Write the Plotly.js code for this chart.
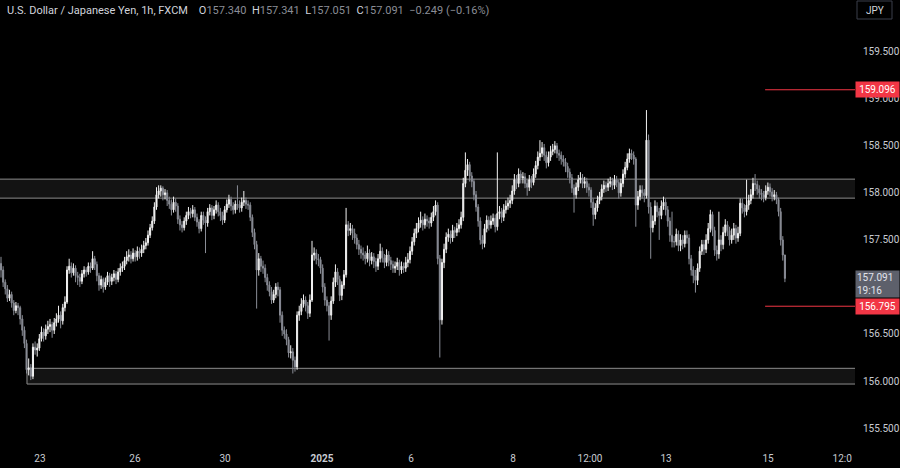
<!DOCTYPE html>
<html>
<head>
<meta charset="utf-8">
<script src="https://cdn.plot.ly/plotly-3.0.1.min.js"></script>
<style>
html,body{margin:0;padding:0;background:#000;}
#chart{width:900px;height:468px;}
</style>
</head>
<body>
<div id="chart"></div>
<script>
// USD/JPY 1h candles (FXCM), Dec 23 2024 -> Jan 15 2025
const opens = [
157.25,157.18,157.05,156.98,156.88,156.92,156.83,156.75,156.80,156.78,
156.66,156.54,156.40,156.12,156.14,156.05,156.36,156.33,156.35,156.45,
156.52,156.48,156.55,156.58,156.60,156.54,156.62,156.66,156.70,156.64,
156.78,156.84,157.18,157.22,157.15,157.20,157.12,157.10,157.06,157.14,
157.18,157.16,157.22,157.20,157.30,157.24,157.12,157.02,157.08,157.00,
157.05,157.12,157.06,157.10,157.14,157.08,157.16,157.20,157.22,157.28,
157.32,157.34,157.30,157.36,157.32,157.38,157.36,157.40,157.44,157.47,
157.55,157.63,157.70,157.85,157.98,158.02,158.05,157.98,158.00,157.92,
157.88,157.82,157.90,157.86,157.72,157.66,157.63,157.70,157.76,157.80,
157.78,157.82,157.74,157.69,157.62,157.76,157.71,157.68,157.80,157.84,
157.76,157.82,157.87,157.80,157.76,157.71,157.82,157.88,157.93,157.86,
157.82,157.88,157.87,157.84,157.90,157.92,157.88,157.87,157.74,157.58,
157.45,157.18,157.30,157.22,157.20,157.10,157.02,156.95,156.86,156.92,
157.00,156.97,156.70,156.54,156.50,156.44,156.30,156.31,156.22,156.15,
156.70,156.74,156.82,156.86,156.80,156.72,156.86,157.34,157.36,157.30,
157.29,157.20,157.00,156.86,156.80,156.70,156.85,157.05,157.16,157.08,
156.91,157.02,157.13,157.66,157.60,157.62,157.57,157.52,157.45,157.40,
157.36,157.34,157.30,157.36,157.28,157.32,157.27,157.22,157.30,157.38,
157.31,157.26,157.34,157.28,157.24,157.20,157.22,157.26,157.18,157.22,
157.20,157.26,157.29,157.38,157.48,157.57,157.62,157.68,157.71,157.66,
157.72,157.70,157.68,157.74,157.80,157.87,157.30,156.65,157.26,157.40,
157.53,157.56,157.52,157.60,157.58,157.62,157.66,157.74,158.10,158.24,
158.30,158.18,158.12,157.98,157.85,157.70,157.50,157.46,157.62,157.71,
157.66,157.70,157.73,157.64,157.78,157.80,157.74,157.82,157.86,157.89,
157.92,158.02,158.14,158.10,158.20,158.16,158.17,158.10,158.06,158.14,
158.11,158.20,158.29,158.38,158.42,158.48,158.40,158.32,158.38,158.44,
158.46,158.50,158.42,158.40,158.36,158.33,158.28,158.22,158.16,158.05,
157.98,158.06,158.14,158.16,158.10,158.12,158.06,158.03,157.90,157.77,
157.84,157.92,157.96,158.04,158.08,158.06,158.10,158.12,158.08,158.14,
158.11,158.00,158.10,158.20,158.27,158.36,158.42,158.40,158.36,157.87,
157.96,158.03,158.00,157.97,158.56,157.85,157.63,157.70,157.86,157.80,
157.76,157.86,157.90,157.82,157.70,157.55,157.48,157.48,157.56,157.44,
157.50,157.46,157.55,157.52,157.30,157.18,157.12,157.07,157.20,157.38,
157.45,157.40,157.50,157.62,157.77,157.60,157.39,157.35,157.50,157.45,
157.58,157.66,157.60,157.50,157.55,157.62,157.52,157.57,157.89,157.84,
157.80,157.87,157.92,157.98,158.10,158.09,158.04,158.00,157.98,157.95,
158.02,158.06,158.01,157.96,157.98,157.93,157.80,157.50,157.340
];
const highs = [
157.32,157.22,157.08,157.02,156.97,156.95,156.86,156.84,156.83,156.80,
156.70,156.58,156.44,156.24,156.18,156.40,156.42,156.40,156.50,156.58,
156.56,156.60,156.64,156.66,156.63,156.67,156.72,156.80,156.74,156.82,
156.90,157.22,157.30,157.26,157.25,157.23,157.16,157.14,157.18,157.22,
157.21,157.26,157.26,157.38,157.33,157.27,157.15,157.12,157.10,157.10,
157.16,157.15,157.14,157.18,157.17,157.20,157.25,157.27,157.32,157.38,
157.40,157.38,157.41,157.39,157.43,157.42,157.45,157.49,157.52,157.60,
157.67,157.75,157.90,158.06,158.08,158.08,158.07,158.04,158.03,157.96,
157.93,157.96,157.94,157.89,157.76,157.70,157.74,157.80,157.85,157.84,
157.87,157.85,157.78,157.72,157.80,157.80,157.75,157.84,157.88,157.87,
157.86,157.92,157.90,157.84,157.80,157.86,157.93,157.98,157.96,157.90,
157.92,158.08,157.92,157.95,158.02,157.95,157.92,157.90,157.77,157.62,
157.49,157.36,157.33,157.28,157.24,157.14,157.06,157.00,156.97,157.04,
157.05,157.00,156.74,156.58,156.55,156.47,156.38,156.35,156.26,156.74,
156.80,156.88,156.92,156.90,156.84,156.92,157.49,157.42,157.40,157.35,
157.32,157.24,157.04,156.90,156.84,156.90,157.10,157.24,157.20,157.12,
157.06,157.18,157.84,157.70,157.68,157.66,157.62,157.56,157.50,157.44,
157.42,157.38,157.44,157.40,157.37,157.36,157.31,157.35,157.46,157.42,
157.35,157.40,157.38,157.32,157.28,157.27,157.31,157.29,157.27,157.26,
157.32,157.36,157.43,157.53,157.62,157.68,157.74,157.80,157.75,157.78,
157.76,157.74,157.79,157.86,157.92,157.90,157.34,157.30,157.46,157.58,
157.62,157.60,157.66,157.64,157.68,157.72,157.80,158.16,158.43,158.36,
158.33,158.22,158.15,158.02,157.88,157.74,157.55,157.67,157.76,157.75,
157.76,157.78,157.77,158.43,157.86,157.84,157.88,157.92,157.95,157.98,
158.08,158.20,158.19,158.26,158.24,158.22,158.21,158.14,158.19,158.18,
158.26,158.34,158.44,158.56,158.54,158.52,158.44,158.44,158.50,158.52,
158.55,158.53,158.46,158.44,158.40,158.37,158.32,158.26,158.20,158.09,
158.11,158.19,158.22,158.20,158.17,158.16,158.10,158.06,157.94,157.89,
157.97,158.01,158.09,158.13,158.12,158.15,158.17,158.16,158.19,158.18,
158.14,158.15,158.25,158.33,158.42,158.47,158.46,158.44,158.38,158.02,
158.08,158.08,158.04,158.88,158.62,157.90,157.76,157.92,157.90,157.84,
157.92,157.96,157.94,157.86,157.74,157.80,157.54,157.62,157.60,157.56,
157.55,157.60,157.60,157.56,157.34,157.22,157.18,157.25,157.43,157.50,
157.50,157.56,157.68,157.82,157.80,157.64,157.44,157.80,157.55,157.64,
157.72,157.70,157.64,157.62,157.68,157.66,157.64,157.94,157.94,157.88,
158.14,157.98,158.04,158.16,158.20,158.13,158.08,158.04,158.02,158.08,
158.11,158.10,158.05,158.03,158.01,157.95,157.84,157.54,157.341
];
const lows = [
157.10,157.00,156.92,156.84,156.85,156.78,156.70,156.72,156.70,156.60,
156.48,156.35,156.08,156.06,156.01,156.02,156.28,156.26,156.32,156.42,
156.42,156.44,156.50,156.52,156.46,156.50,156.58,156.62,156.56,156.60,
156.74,156.82,157.14,157.10,157.12,157.05,157.02,157.00,157.03,157.10,
157.11,157.13,157.15,157.18,157.18,157.06,156.96,156.98,156.94,156.97,
157.02,157.00,157.02,157.06,157.03,157.05,157.12,157.16,157.18,157.24,
157.27,157.25,157.27,157.27,157.28,157.30,157.32,157.36,157.40,157.44,
157.52,157.60,157.67,157.82,157.94,157.96,157.92,157.93,157.86,157.83,
157.76,157.79,157.80,157.67,157.60,157.58,157.60,157.66,157.72,157.73,
157.74,157.70,157.64,157.57,157.59,157.66,157.36,157.64,157.76,157.71,
157.72,157.78,157.75,157.70,157.66,157.68,157.79,157.84,157.81,157.77,
157.78,157.82,157.79,157.80,157.86,157.83,157.82,157.70,157.53,157.40,
156.77,157.12,157.16,157.14,157.05,156.96,156.90,156.82,156.83,156.88,
156.90,156.62,156.48,156.45,156.38,156.25,156.24,156.08,156.10,156.12,
156.64,156.70,156.78,156.74,156.66,156.68,156.84,157.28,157.24,157.22,
157.14,156.94,156.80,156.74,156.43,156.65,156.82,157.00,157.02,156.85,
156.86,156.98,157.10,157.54,157.55,157.50,157.46,157.40,157.34,157.30,
157.28,157.24,157.26,157.22,157.24,157.20,157.16,157.18,157.26,157.26,
157.20,157.22,157.22,157.18,157.15,157.15,157.18,157.12,157.14,157.15,
157.16,157.21,157.25,157.34,157.44,157.52,157.58,157.63,157.60,157.62,
157.64,157.62,157.64,157.70,157.76,157.24,156.25,156.60,157.20,157.36,
157.48,157.46,157.48,157.52,157.54,157.58,157.62,157.70,158.06,158.18,
158.12,158.06,157.92,157.80,157.64,157.45,157.40,157.42,157.58,157.60,
157.62,157.66,157.58,157.60,157.72,157.68,157.70,157.78,157.82,157.84,
157.88,157.98,158.04,158.06,158.10,158.10,158.05,157.97,158.02,158.05,
158.08,158.16,158.25,158.34,158.38,158.34,158.26,158.28,158.34,158.40,
158.42,158.37,158.34,158.30,158.28,158.22,158.16,158.10,158.00,157.79,
157.94,158.02,158.10,158.05,158.05,158.00,157.96,157.84,157.65,157.72,
157.80,157.88,157.92,158.00,158.01,158.02,158.06,158.03,158.04,158.06,
157.94,157.96,158.06,158.16,158.24,158.32,158.35,158.30,157.64,157.82,
157.92,157.94,157.90,157.94,157.78,157.30,157.58,157.66,157.74,157.50,
157.72,157.82,157.76,157.64,157.48,157.42,157.42,157.44,157.38,157.38,
157.40,157.42,157.46,157.24,157.12,157.04,156.94,157.02,157.16,157.34,
157.34,157.36,157.46,157.58,157.54,157.33,157.28,157.30,157.38,157.40,
157.54,157.54,157.44,157.46,157.50,157.46,157.48,157.54,157.78,157.74,
157.76,157.82,157.88,157.94,158.02,157.98,157.94,157.92,157.90,157.92,
157.98,157.96,157.91,157.92,157.88,157.75,157.44,157.28,157.051
];
const closes = [
157.18,157.05,156.98,156.88,156.92,156.83,156.75,156.80,156.78,156.66,
156.54,156.40,156.12,156.14,156.05,156.36,156.33,156.35,156.45,156.52,
156.48,156.55,156.58,156.60,156.54,156.62,156.66,156.70,156.64,156.78,
156.84,157.18,157.22,157.15,157.20,157.12,157.10,157.06,157.14,157.18,
157.16,157.22,157.20,157.30,157.24,157.12,157.02,157.08,157.00,157.05,
157.12,157.06,157.10,157.14,157.08,157.16,157.20,157.22,157.28,157.32,
157.34,157.30,157.36,157.32,157.38,157.36,157.40,157.44,157.47,157.55,
157.63,157.70,157.85,157.98,158.02,158.05,157.98,158.00,157.92,157.88,
157.82,157.90,157.86,157.72,157.66,157.63,157.70,157.76,157.80,157.78,
157.82,157.74,157.69,157.62,157.76,157.71,157.68,157.80,157.84,157.76,
157.82,157.87,157.80,157.76,157.71,157.82,157.88,157.93,157.86,157.82,
157.88,157.87,157.84,157.90,157.92,157.88,157.87,157.74,157.58,157.45,
157.18,157.30,157.22,157.20,157.10,157.02,156.95,156.86,156.92,157.00,
156.97,156.70,156.54,156.50,156.44,156.30,156.31,156.22,156.15,156.70,
156.74,156.82,156.86,156.80,156.72,156.86,157.34,157.36,157.30,157.29,
157.20,157.00,156.86,156.80,156.70,156.85,157.05,157.16,157.08,156.91,
157.02,157.13,157.66,157.60,157.62,157.57,157.52,157.45,157.40,157.36,
157.34,157.30,157.36,157.28,157.32,157.27,157.22,157.30,157.38,157.31,
157.26,157.34,157.28,157.24,157.20,157.22,157.26,157.18,157.22,157.20,
157.26,157.29,157.38,157.48,157.57,157.62,157.68,157.71,157.66,157.72,
157.70,157.68,157.74,157.80,157.87,157.30,156.65,157.26,157.40,157.53,
157.56,157.52,157.60,157.58,157.62,157.66,157.74,158.10,158.24,158.30,
158.18,158.12,157.98,157.85,157.70,157.50,157.46,157.62,157.71,157.66,
157.70,157.73,157.64,157.78,157.80,157.74,157.82,157.86,157.89,157.92,
158.02,158.14,158.10,158.20,158.16,158.17,158.10,158.06,158.14,158.11,
158.20,158.29,158.38,158.42,158.48,158.40,158.32,158.38,158.44,158.46,
158.50,158.42,158.40,158.36,158.33,158.28,158.22,158.16,158.05,157.98,
158.06,158.14,158.16,158.10,158.12,158.06,158.03,157.90,157.77,157.84,
157.92,157.96,158.04,158.08,158.06,158.10,158.12,158.08,158.14,158.11,
158.00,158.10,158.20,158.27,158.36,158.42,158.40,158.36,157.87,157.96,
158.03,158.00,157.97,158.56,157.85,157.63,157.70,157.86,157.80,157.76,
157.86,157.90,157.82,157.70,157.55,157.48,157.48,157.56,157.44,157.50,
157.46,157.55,157.52,157.30,157.18,157.12,157.07,157.20,157.38,157.45,
157.40,157.50,157.62,157.77,157.60,157.39,157.35,157.50,157.45,157.58,
157.66,157.60,157.50,157.55,157.62,157.52,157.57,157.89,157.84,157.80,
157.87,157.92,157.98,158.10,158.09,158.04,158.00,157.98,157.95,158.02,
158.06,158.01,157.96,157.98,157.93,157.80,157.50,157.34,157.091
];
// time-axis labels, positioned by candle index
const tickIdx  = [18.3, 62.9, 105.2, 150.7, 192.5, 240.4, 276.5, 312.2, 360.1, 396.2];
const tickText = ['23', '26', '30', '<b>2025</b>', '6', '8', '12:00', '13', '15', '12:00'];
// price axis ticks (157.000 sits under the live-price tag in the reference)
const priceTicks = [155.5, 156.0, 156.5, 157.5, 158.0, 158.5, 159.0, 159.5];
// zones and levels
const resistance = [157.944, 158.146];
const support = [155.968, 156.135];
const upperLevel = 159.096;
const lowerLevel = 156.795;
const lastPrice = 157.091;
const countdown = '19:16';
const header = {name: 'U.S. Dollar / Japanese Yen, 1h, FXCM', o: '157.340', h: '157.341', l: '157.051', c: '157.091', chg: '\u22120.249 (\u22120.16%)'};

const idx = closes.map((_, i) => i);
const FONT = 'Roboto, "Liberation Sans", sans-serif';
const W = 855, H = 445;

const trace = {
  type: 'candlestick',
  x: idx, open: opens, high: highs, low: lows, close: closes,
  increasing: {line: {color: '#f2f2f2', width: 1}, fillcolor: '#f2f2f2'},
  decreasing: {line: {color: '#8a8d96', width: 1}, fillcolor: '#8a8d96'},
  whiskerwidth: 0,
  hoverinfo: 'skip'
};

const valColor = '#8a8d96';
const headerText =
  '<span style="color:#d1d4dc">' + header.name + '</span>' +
  '    <span style="color:#d1d4dc">O</span><span style="color:' + valColor + '">' + header.o + '</span>' +
  '  <span style="color:#d1d4dc">H</span><span style="color:' + valColor + '">' + header.h + '</span>' +
  '  <span style="color:#d1d4dc">L</span><span style="color:' + valColor + '">' + header.l + '</span>' +
  '  <span style="color:#d1d4dc">C</span><span style="color:' + valColor + '">' + header.c + '</span>' +
  '  <span style="color:' + valColor + '">' + header.chg + '</span>';

const layout = {
  width: 900, height: 468,
  margin: {l: 0, r: 45, t: 0, b: 23, pad: 0},
  paper_bgcolor: '#000000',
  plot_bgcolor: '#000000',
  showlegend: false,
  hovermode: false,
  font: {family: FONT, color: '#c8cbd2', size: 10},
  xaxis: {
    range: [-0.47, 400.9],
    rangeslider: {visible: false},
    showgrid: false, zeroline: false, showline: false,
    tickmode: 'array', tickvals: tickIdx, ticktext: tickText,
    ticks: '', ticklabelstandoff: 6,
    tickfont: {family: FONT, size: 10, color: '#c8cbd2'},
    fixedrange: true
  },
  yaxis: {
    side: 'right',
    range: [155.32, 160.05],
    showgrid: false, zeroline: false, showline: false,
    tickmode: 'array', tickvals: priceTicks,
    tickformat: '.3f',
    ticks: '', ticklabelstandoff: 7,
    tickfont: {family: FONT, size: 10, color: '#c8cbd2'},
    fixedrange: true
  },
  shapes: [
    {type: 'rect', xref: 'x', yref: 'y', x0: -5, x1: 420, y0: resistance[0], y1: resistance[1],
     fillcolor: 'rgba(255,255,255,0.075)', line: {color: '#8c8c8c', width: 1}, layer: 'below'},
    {type: 'rect', xref: 'x', yref: 'y', x0: 12.2, x1: 420, y0: support[0], y1: support[1],
     fillcolor: 'rgba(255,255,255,0.075)', line: {color: '#8c8c8c', width: 1}, layer: 'below'},
    {type: 'line', xref: 'x', yref: 'y', x0: 358.7, x1: 420, y0: upperLevel, y1: upperLevel,
     line: {color: '#f23645', width: 1}},
    {type: 'line', xref: 'x', yref: 'y', x0: 358.7, x1: 420, y0: lowerLevel, y1: lowerLevel,
     line: {color: '#f23645', width: 1}},
    // clip the last time label at the price-axis edge
    {type: 'rect', xref: 'paper', yref: 'paper', x0: 852 / W, x1: 1.06, y0: -0.06, y1: -0.003,
     fillcolor: '#000000', line: {width: 0}, layer: 'above'},
    // currency box
    {type: 'rect', xref: 'paper', yref: 'paper', x0: 857 / W, x1: 892 / W, y0: (H - 19) / H, y1: (H - 1) / H,
     fillcolor: 'rgba(0,0,0,0)', line: {color: '#3a3e4a', width: 1}, layer: 'above'}
  ],
  annotations: [
    {xref: 'paper', yref: 'paper', x: 5 / W, y: (H - 10) / H, xanchor: 'left', yanchor: 'middle',
     text: headerText, showarrow: false, font: {family: FONT, size: 11, color: '#d1d4dc'}},
    {xref: 'paper', yref: 'paper', x: 874.5 / W, y: (H - 10) / H, xanchor: 'center', yanchor: 'middle',
     text: 'JPY', showarrow: false, font: {family: FONT, size: 10, color: '#d1d4dc'}},
    {xref: 'paper', yref: 'y', x: 1, y: upperLevel, xanchor: 'left', yanchor: 'middle',
     text: upperLevel.toFixed(3), showarrow: false, bgcolor: '#f23645', width: 41, height: 13, borderpad: 1,
     font: {family: FONT, size: 10, color: '#ffffff'}},
    {xref: 'paper', yref: 'y', x: 1, y: lowerLevel, xanchor: 'left', yanchor: 'middle',
     text: lowerLevel.toFixed(3), showarrow: false, bgcolor: '#f23645', width: 41, height: 13, borderpad: 1,
     font: {family: FONT, size: 10, color: '#ffffff'}},
    {xref: 'paper', yref: 'y', x: 1, y: lastPrice, xanchor: 'left', yanchor: 'top', yshift: 8,
     text: lastPrice.toFixed(3) + '<br>' + countdown, showarrow: false, bgcolor: '#5d606b', width: 41, height: 24, borderpad: 1,
     align: 'left', font: {family: FONT, size: 10, color: '#e0e3eb'}}
  ]
};

Plotly.newPlot('chart', [trace], layout, {displayModeBar: false, staticPlot: true});
</script>
</body>
</html>
